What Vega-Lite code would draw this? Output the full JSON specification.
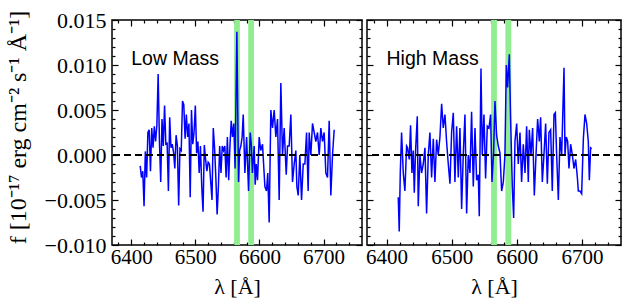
{
  "$schema": "https://vega.github.io/schema/vega-lite/v6.json",
  "padding": {"left": 5, "top": 8, "right": 5, "bottom": 2},
  "config": {
    "view": {"stroke": "black", "strokeWidth": 1.5},
    "concat": {"spacing": 0},
    "axis": {"grid": false, "domain": false, "labelColor": "black", "titleColor": "black", "labelFont": "Liberation Serif", "titleFont": "Liberation Serif", "labelFontSize": 21, "titleFontSize": 24, "titleFontWeight": "normal"}
  },
  "datasets": {
    "bands": [{"a": 6560.5, "b": 6569.5}, {"a": 6582.5, "b": 6591.5}],
    "low": [
      {"w": 6414, "f": -0.0012}, {"w": 6416, "f": -0.0025}, {"w": 6418, "f": -0.0018}, {"w": 6420, "f": -0.0057}, {"w": 6422, "f": 0.0004}, {"w": 6424, "f": -0.0025}, {"w": 6426, "f": 0.0025}, {"w": 6428, "f": 0.0028}, {"w": 6430, "f": -0.0018}, {"w": 6432, "f": 0.003}, {"w": 6434, "f": 0.0008}, {"w": 6436, "f": 0.0032}, {"w": 6438, "f": 0.0015}, {"w": 6440, "f": 0.0033}, {"w": 6442, "f": 0.009}, {"w": 6444, "f": 0.0015}, {"w": 6446, "f": -0.003}, {"w": 6448, "f": 0.004}, {"w": 6450, "f": 0.001}, {"w": 6452, "f": 0.0055}, {"w": 6454, "f": 0.0012}, {"w": 6456, "f": 0.0013}, {"w": 6458, "f": -0.004}, {"w": 6460, "f": 0.0042}, {"w": 6462, "f": 0.0008}, {"w": 6464, "f": 0.0012}, {"w": 6466, "f": 0.0003}, {"w": 6468, "f": -0.0015}, {"w": 6470, "f": 0.0022}, {"w": 6472, "f": 0.001}, {"w": 6474, "f": -0.0056}, {"w": 6476, "f": 0.0007}, {"w": 6478, "f": 0.0005}, {"w": 6480, "f": 0.006}, {"w": 6482, "f": 0.0056}, {"w": 6484, "f": 0.0018}, {"w": 6486, "f": 0.0045}, {"w": 6488, "f": 0.002}, {"w": 6490, "f": 0.0035}, {"w": 6492, "f": -0.0047}, {"w": 6494, "f": 0.005}, {"w": 6496, "f": 0.0012}, {"w": 6498, "f": 0.0025}, {"w": 6500, "f": 0.0055}, {"w": 6502, "f": 0.0002}, {"w": 6504, "f": 0.0015}, {"w": 6506, "f": -0.002}, {"w": 6508, "f": 0.001}, {"w": 6510, "f": -0.0035}, {"w": 6512, "f": -0.0063}, {"w": 6514, "f": 0.0011}, {"w": 6516, "f": -0.0005}, {"w": 6518, "f": -0.0018}, {"w": 6520, "f": -0.0008}, {"w": 6522, "f": -0.001}, {"w": 6524, "f": -0.003}, {"w": 6526, "f": -0.005}, {"w": 6528, "f": 0.003}, {"w": 6530, "f": 0.0008}, {"w": 6532, "f": -0.0025}, {"w": 6534, "f": -0.0066}, {"w": 6536, "f": -0.0035}, {"w": 6538, "f": 0.001}, {"w": 6540, "f": -0.002}, {"w": 6542, "f": 0.001}, {"w": 6544, "f": 0.0005}, {"w": 6546, "f": 0.001}, {"w": 6548, "f": -0.0025}, {"w": 6550, "f": 0.002}, {"w": 6552, "f": -0.0028}, {"w": 6554, "f": 0.001}, {"w": 6556, "f": 0.0038}, {"w": 6558, "f": 0.002}, {"w": 6560, "f": 0.0035}, {"w": 6562, "f": -0.0015}, {"w": 6564.8, "f": 0.0137}, {"w": 6567.4, "f": -0.003}, {"w": 6569, "f": 0.0005}, {"w": 6571, "f": 0.001}, {"w": 6573, "f": 0.002}, {"w": 6574.7, "f": 0.0045}, {"w": 6577.3, "f": -0.002}, {"w": 6580, "f": 0.002}, {"w": 6583, "f": -0.004}, {"w": 6585.6, "f": 0.0025}, {"w": 6587.5, "f": 0.001}, {"w": 6589, "f": -0.002}, {"w": 6591.8, "f": 0.001}, {"w": 6593.4, "f": -0.0033}, {"w": 6595, "f": -0.001}, {"w": 6597, "f": -0.0028}, {"w": 6599.6, "f": 0.002}, {"w": 6602, "f": 0.0005}, {"w": 6604.8, "f": 0.0012}, {"w": 6606.5, "f": -0.001}, {"w": 6608.5, "f": -0.0035}, {"w": 6611, "f": -0.004}, {"w": 6613, "f": -0.002}, {"w": 6615.2, "f": -0.0075}, {"w": 6617.8, "f": 0.005}, {"w": 6620.4, "f": 0.003}, {"w": 6623, "f": 0.005}, {"w": 6625.6, "f": 0.002}, {"w": 6628.2, "f": 0.004}, {"w": 6630.8, "f": -0.005}, {"w": 6633.4, "f": 0.008}, {"w": 6636, "f": 0.0}, {"w": 6638.6, "f": 0.003}, {"w": 6641.8, "f": -0.0022}, {"w": 6643.8, "f": 0.001}, {"w": 6646.4, "f": 0.001}, {"w": 6649, "f": 0.0045}, {"w": 6651.6, "f": -0.003}, {"w": 6654.2, "f": -0.001}, {"w": 6656.8, "f": 0.0005}, {"w": 6658.4, "f": -0.0035}, {"w": 6660.5, "f": -0.0045}, {"w": 6663, "f": 0.0}, {"w": 6665.7, "f": -0.005}, {"w": 6668.3, "f": -0.001}, {"w": 6670.9, "f": -0.001}, {"w": 6673.5, "f": 0.0025}, {"w": 6676, "f": -0.004}, {"w": 6677.6, "f": 0.0025}, {"w": 6680.2, "f": 0.0}, {"w": 6682.8, "f": 0.0035}, {"w": 6685.4, "f": 0.0025}, {"w": 6688, "f": 0.0015}, {"w": 6690.6, "f": 0.0025}, {"w": 6693.2, "f": 0.0}, {"w": 6695.8, "f": 0.003}, {"w": 6698.4, "f": 0.0015}, {"w": 6701, "f": 0.0025}, {"w": 6703.6, "f": -0.002}, {"w": 6706.2, "f": -0.0025}, {"w": 6708.8, "f": 0.0038}, {"w": 6711.4, "f": -0.0045}, {"w": 6714, "f": 0.0}, {"w": 6716.6, "f": 0.0028}
    ],
    "high": [
      {"w": 6418.0, "f": -0.0047}, {"w": 6419.5, "f": -0.0085}, {"w": 6421.1, "f": -0.002}, {"w": 6423.1, "f": 0.0025}, {"w": 6425.7, "f": -0.002}, {"w": 6428.2, "f": -0.004}, {"w": 6430.8, "f": 0.001}, {"w": 6432.3, "f": 0.0008}, {"w": 6434.9, "f": -0.0005}, {"w": 6436.9, "f": 0.0033}, {"w": 6439.0, "f": -0.002}, {"w": 6441.0, "f": 0.0005}, {"w": 6442.6, "f": -0.0042}, {"w": 6444.6, "f": 0.0005}, {"w": 6447.2, "f": 0.0043}, {"w": 6448.7, "f": -0.0057}, {"w": 6451.3, "f": 0.0}, {"w": 6453.8, "f": -0.002}, {"w": 6456.4, "f": -0.001}, {"w": 6459.0, "f": 0.0008}, {"w": 6461.5, "f": -0.0065}, {"w": 6464.1, "f": 0.0}, {"w": 6466.6, "f": 0.0025}, {"w": 6469.2, "f": -0.0025}, {"w": 6471.8, "f": 0.0018}, {"w": 6474.3, "f": -0.003}, {"w": 6476.9, "f": 0.0017}, {"w": 6479.4, "f": 0.0}, {"w": 6482.0, "f": 0.002}, {"w": 6484.6, "f": 0.0057}, {"w": 6487.1, "f": 0.003}, {"w": 6489.7, "f": 0.0045}, {"w": 6492.2, "f": 0.0015}, {"w": 6494.8, "f": -0.001}, {"w": 6497.4, "f": -0.0032}, {"w": 6499.9, "f": 0.0025}, {"w": 6502.5, "f": 0.0047}, {"w": 6505.0, "f": -0.003}, {"w": 6507.6, "f": 0.0032}, {"w": 6510.2, "f": -0.0025}, {"w": 6512.7, "f": 0.003}, {"w": 6515.3, "f": -0.006}, {"w": 6517.8, "f": 0.0}, {"w": 6520.4, "f": 0.0045}, {"w": 6523.0, "f": -0.0065}, {"w": 6525.5, "f": 0.0}, {"w": 6528.1, "f": -0.002}, {"w": 6530.6, "f": 0.0048}, {"w": 6533.2, "f": -0.0035}, {"w": 6535.8, "f": 0.003}, {"w": 6538.3, "f": -0.0028}, {"w": 6540.9, "f": -0.0022}, {"w": 6542.4, "f": -0.0068}, {"w": 6545.0, "f": 0.0096}, {"w": 6547.0, "f": 0.0}, {"w": 6549.6, "f": 0.0045}, {"w": 6552.1, "f": -0.0026}, {"w": 6554.7, "f": 0.0032}, {"w": 6557.3, "f": 0.003}, {"w": 6559.8, "f": 0.0045}, {"w": 6561.9, "f": -0.003}, {"w": 6564.4, "f": 0.0003}, {"w": 6566.5, "f": 0.006}, {"w": 6569.0, "f": 0.0022}, {"w": 6571.6, "f": 0.001}, {"w": 6574.2, "f": 0.0002}, {"w": 6576.7, "f": -0.004}, {"w": 6579.3, "f": -0.003}, {"w": 6581.8, "f": 0.0}, {"w": 6583.9, "f": 0.01}, {"w": 6585.9, "f": 0.0075}, {"w": 6588.5, "f": 0.0112}, {"w": 6590.5, "f": 0.004}, {"w": 6593.1, "f": -0.0035}, {"w": 6595.2, "f": -0.007}, {"w": 6597.2, "f": 0.0015}, {"w": 6599.8, "f": 0.0035}, {"w": 6602.3, "f": -0.001}, {"w": 6604.9, "f": 0.0025}, {"w": 6607.4, "f": -0.003}, {"w": 6610.0, "f": 0.0012}, {"w": 6612.6, "f": -0.002}, {"w": 6615.1, "f": 0.0032}, {"w": 6617.7, "f": -0.003}, {"w": 6619.2, "f": 0.0028}, {"w": 6621.8, "f": 0.0}, {"w": 6624.3, "f": 0.003}, {"w": 6626.9, "f": -0.0045}, {"w": 6629.5, "f": 0.0}, {"w": 6632.0, "f": 0.004}, {"w": 6634.6, "f": 0.0015}, {"w": 6636.6, "f": 0.0042}, {"w": 6639.2, "f": -0.003}, {"w": 6641.7, "f": 0.0}, {"w": 6644.3, "f": 0.0035}, {"w": 6646.9, "f": -0.0032}, {"w": 6649.4, "f": 0.0025}, {"w": 6652.0, "f": 0.0028}, {"w": 6654.5, "f": -0.004}, {"w": 6657.1, "f": 0.0045}, {"w": 6659.2, "f": 0.0047}, {"w": 6661.2, "f": 0.0}, {"w": 6663.8, "f": -0.005}, {"w": 6666.3, "f": 0.002}, {"w": 6668.9, "f": 0.0}, {"w": 6672.5, "f": 0.0097}, {"w": 6674.0, "f": 0.0}, {"w": 6676.0, "f": 0.002}, {"w": 6678.1, "f": 0.0015}, {"w": 6680.1, "f": -0.0015}, {"w": 6682.7, "f": 0.0012}, {"w": 6685.3, "f": 0.0}, {"w": 6687.8, "f": -0.0015}, {"w": 6690.4, "f": -0.0005}, {"w": 6693.0, "f": -0.0025}, {"w": 6694.5, "f": -0.004}, {"w": 6697.0, "f": -0.004}, {"w": 6699.6, "f": -0.0043}, {"w": 6702.2, "f": 0.0018}, {"w": 6704.7, "f": 0.0045}, {"w": 6707.3, "f": 0.0035}, {"w": 6709.8, "f": 0.0015}, {"w": 6711.4, "f": -0.0028}, {"w": 6713.4, "f": 0.0008}, {"w": 6715.0, "f": 0.0007}
    ]
  },
  "hconcat": [
    {
      "width": 250, "height": 225,
      "layer": [
        {"data": {"name": "bands"}, "mark": {"type": "rect", "color": "#90ee90"},
         "encoding": {
           "x": {"field": "a", "type": "quantitative", "scale": {"domain": [6370, 6760], "nice": false, "zero": false},
                 "axis": {"orient": "bottom", "values": [6400, 6500, 6600, 6700], "format": "d", "ticks": false, "labelPadding": 1, "labelFontSize": 21, "title": "λ [Å]", "titleFontSize": 22, "titlePadding": 9}},
           "x2": {"field": "b"}}},
        {"data": {"name": "low"}, "mark": {"type": "line", "color": "#0000ff", "strokeWidth": 1.5},
         "encoding": {
           "x": {"field": "w", "type": "quantitative", "scale": {"domain": [6370, 6760], "nice": false, "zero": false},
                 "axis": {"orient": "top", "values": [6400, 6500, 6600, 6700], "labels": false, "tickSize": -6, "tickColor": "black", "tickWidth": 1.2, "title": null}},
           "y": {"field": "f", "type": "quantitative", "scale": {"domain": [-0.01, 0.015], "nice": false, "zero": false},
                 "axis": {"orient": "left", "values": [-0.01, -0.005, 0, 0.005, 0.01, 0.015], "format": ".3f", "ticks": false, "labelPadding": 6, "labelFontSize": 22, "title": "f [10⁻¹⁷ erg cm⁻² s⁻¹ Å⁻¹]", "titlePadding": 14, "titleY": 107}}}},
        {"data": {"values": [{}]}, "mark": {"type": "rule", "color": "black", "strokeWidth": 2, "strokeDash": [7, 4]},
         "encoding": {"y": {"datum": 0, "type": "quantitative", "axis": {"orient": "right", "values": [-0.01, -0.005, 0, 0.005, 0.01, 0.015], "labels": false, "tickSize": -6, "tickColor": "black", "tickWidth": 1.2, "title": null}}}},
        {"data": {"values": [{}]}, "mark": {"type": "text", "text": "Low Mass", "font": "Liberation Sans", "fontSize": 19.5, "align": "left", "baseline": "alphabetic", "color": "black"},
         "encoding": {
           "x": {"datum": 6400, "type": "quantitative", "axis": {"orient": "bottom", "values": [6380, 6420, 6440, 6460, 6480, 6520, 6540, 6560, 6580, 6620, 6640, 6660, 6680, 6720, 6740], "labels": false, "tickSize": -3, "tickColor": "black", "tickWidth": 1.2, "title": null}},
           "y": {"datum": 0.010, "type": "quantitative", "axis": {"orient": "left", "values": [-0.009, -0.008, -0.007, -0.006, -0.004, -0.003, -0.002, -0.001, 0.001, 0.002, 0.003, 0.004, 0.006, 0.007, 0.008, 0.009, 0.011, 0.012, 0.013, 0.014], "labels": false, "tickSize": -3, "tickColor": "black", "tickWidth": 1.2, "title": null}}}},
        {"data": {"values": [{}]}, "mark": {"type": "text", "text": ""},
         "encoding": {
           "x": {"datum": 6500, "type": "quantitative", "axis": {"orient": "top", "values": [6380, 6420, 6440, 6460, 6480, 6520, 6540, 6560, 6580, 6620, 6640, 6660, 6680, 6720, 6740], "labels": false, "tickSize": -3, "tickColor": "black", "tickWidth": 1.2, "title": null}},
           "y": {"datum": 0, "type": "quantitative", "axis": {"orient": "right", "values": [-0.009, -0.008, -0.007, -0.006, -0.004, -0.003, -0.002, -0.001, 0.001, 0.002, 0.003, 0.004, 0.006, 0.007, 0.008, 0.009, 0.011, 0.012, 0.013, 0.014], "labels": false, "tickSize": -3, "tickColor": "black", "tickWidth": 1.2, "title": null}}}},
        {"data": {"values": [{}]}, "mark": {"type": "text", "text": ""},
         "encoding": {
           "x": {"datum": 6500, "type": "quantitative", "axis": {"orient": "bottom", "values": [6400, 6500, 6600, 6700], "labels": false, "tickSize": -6, "tickColor": "black", "tickWidth": 1.2, "title": null}},
           "y": {"datum": 0, "type": "quantitative", "axis": {"orient": "left", "values": [-0.01, -0.005, 0, 0.005, 0.01, 0.015], "labels": false, "tickSize": -6, "tickColor": "black", "tickWidth": 1.2, "title": null}}}}
      ]
    },
    {
      "width": 254, "height": 225,
      "layer": [
        {"data": {"name": "bands"}, "mark": {"type": "rect", "color": "#90ee90"},
         "encoding": {
           "x": {"field": "a", "type": "quantitative", "scale": {"domain": [6370, 6760], "nice": false, "zero": false},
                 "axis": {"orient": "bottom", "values": [6400, 6500, 6600, 6700], "format": "d", "ticks": false, "labelPadding": 1, "labelFontSize": 21, "title": "λ [Å]", "titleFontSize": 22, "titlePadding": 9}},
           "x2": {"field": "b"}}},
        {"data": {"name": "high"}, "mark": {"type": "line", "color": "#0000ff", "strokeWidth": 1.5},
         "encoding": {
           "x": {"field": "w", "type": "quantitative", "scale": {"domain": [6370, 6760], "nice": false, "zero": false},
                 "axis": {"orient": "top", "values": [6400, 6500, 6600, 6700], "labels": false, "tickSize": -6, "tickColor": "black", "tickWidth": 1.2, "title": null}},
           "y": {"field": "f", "type": "quantitative", "scale": {"domain": [-0.01, 0.015], "nice": false, "zero": false},
                 "axis": {"orient": "left", "values": [-0.01, -0.005, 0, 0.005, 0.01, 0.015], "labels": false, "tickSize": -6, "tickColor": "black", "tickWidth": 1.2, "title": null}}}},
        {"data": {"values": [{}]}, "mark": {"type": "rule", "color": "black", "strokeWidth": 2, "strokeDash": [7, 4]},
         "encoding": {"y": {"datum": 0, "type": "quantitative", "axis": {"orient": "right", "values": [-0.01, -0.005, 0, 0.005, 0.01, 0.015], "labels": false, "tickSize": -6, "tickColor": "black", "tickWidth": 1.2, "title": null}}}},
        {"data": {"values": [{}]}, "mark": {"type": "text", "text": "High Mass", "font": "Liberation Sans", "fontSize": 19.5, "align": "left", "baseline": "alphabetic", "color": "black"},
         "encoding": {
           "x": {"datum": 6400, "type": "quantitative", "axis": {"orient": "bottom", "values": [6380, 6420, 6440, 6460, 6480, 6520, 6540, 6560, 6580, 6620, 6640, 6660, 6680, 6720, 6740], "labels": false, "tickSize": -3, "tickColor": "black", "tickWidth": 1.2, "title": null}},
           "y": {"datum": 0.010, "type": "quantitative", "axis": {"orient": "left", "values": [-0.009, -0.008, -0.007, -0.006, -0.004, -0.003, -0.002, -0.001, 0.001, 0.002, 0.003, 0.004, 0.006, 0.007, 0.008, 0.009, 0.011, 0.012, 0.013, 0.014], "labels": false, "tickSize": -3, "tickColor": "black", "tickWidth": 1.2, "title": null}}}},
        {"data": {"values": [{}]}, "mark": {"type": "text", "text": ""},
         "encoding": {
           "x": {"datum": 6500, "type": "quantitative", "axis": {"orient": "top", "values": [6380, 6420, 6440, 6460, 6480, 6520, 6540, 6560, 6580, 6620, 6640, 6660, 6680, 6720, 6740], "labels": false, "tickSize": -3, "tickColor": "black", "tickWidth": 1.2, "title": null}},
           "y": {"datum": 0, "type": "quantitative", "axis": {"orient": "right", "values": [-0.009, -0.008, -0.007, -0.006, -0.004, -0.003, -0.002, -0.001, 0.001, 0.002, 0.003, 0.004, 0.006, 0.007, 0.008, 0.009, 0.011, 0.012, 0.013, 0.014], "labels": false, "tickSize": -3, "tickColor": "black", "tickWidth": 1.2, "title": null}}}},
        {"data": {"values": [{}]}, "mark": {"type": "text", "text": ""},
         "encoding": {
           "x": {"datum": 6500, "type": "quantitative", "axis": {"orient": "bottom", "values": [6400, 6500, 6600, 6700], "labels": false, "tickSize": -6, "tickColor": "black", "tickWidth": 1.2, "title": null}}}}
      ]
    }
  ]
}
